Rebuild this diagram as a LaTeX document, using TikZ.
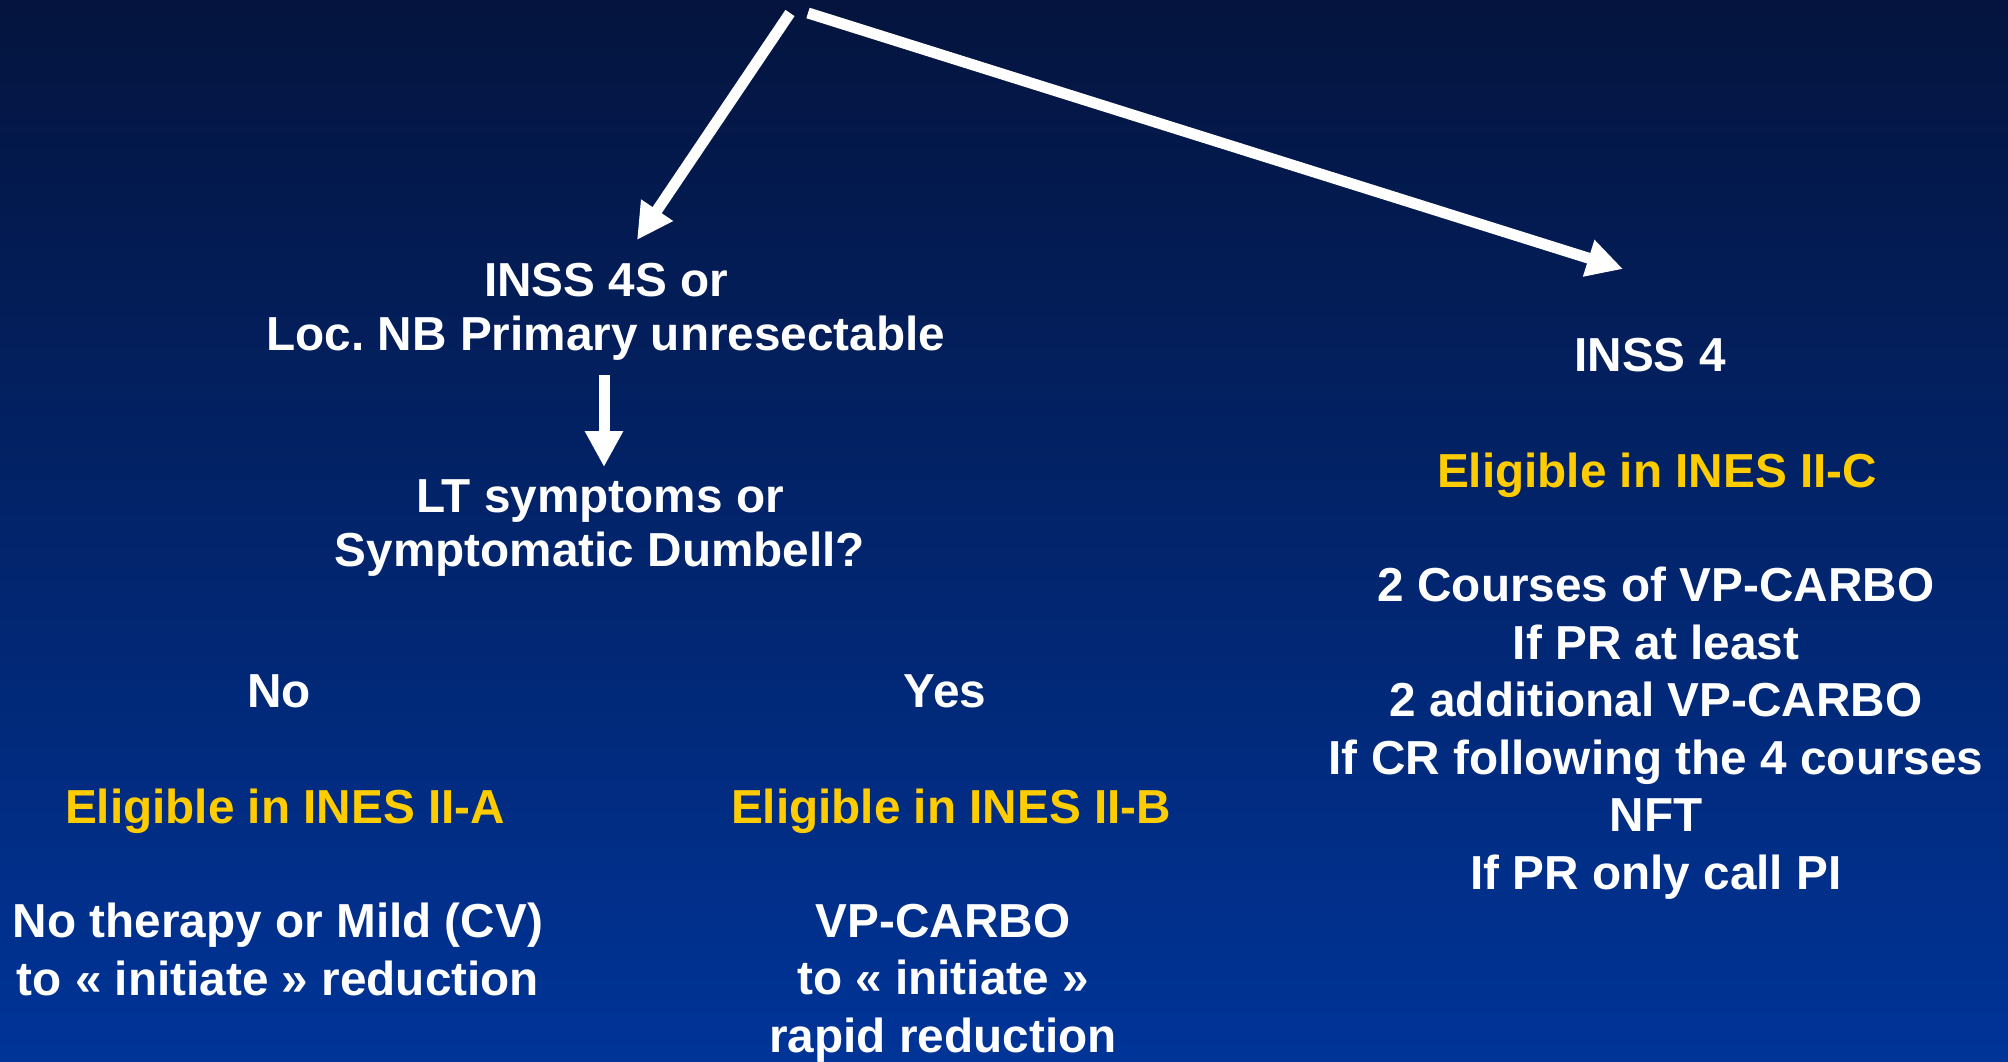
\documentclass[tikz,border=0pt]{standalone}
\usepackage{fontspec}
\setmainfont{Liberation Sans}
\frenchspacing
\usetikzlibrary{arrows.meta}
\definecolor{bgtop}{RGB}{4,20,62}
\definecolor{bgmid}{RGB}{0,38,112}
\definecolor{bgbot}{RGB}{0,52,152}
\definecolor{ineskey}{RGB}{255,204,0}
\begin{document}
\begin{tikzpicture}[x=0.5pt,y=-0.5pt,
  % multi-line nodes sit on the baseline of their last line
  txt/.style={text=white,inner sep=0pt,align=center,anchor=base,
    font=\fontsize{23.85pt}{27pt}\selectfont\bfseries},
  wide/.style={font=\fontsize{23.85pt}{28.6pt}\selectfont\bfseries},
  key/.style={txt,text=ineskey},
  bigarrow/.style={draw=white,line width=5.5pt,
    -{Triangle[length=18pt,width=18pt]}}]
  % backdrop
  \shade[top color=bgtop,middle color=bgmid,bottom color=bgbot]
    (0,0) rectangle (2008,1061);
  \useasboundingbox (0,0) rectangle (2008,1061);

  % left branch
  \node[txt] (n4s) at (606,350) {INSS 4S or\\Loc. NB Primary unresectable};
  \node[txt] (qlt) at (600,566) {LT symptoms or\\Symptomatic Dumbell?};
  \node[txt] (no)  at (279,707) {No};
  \node[txt] (yes) at (945,707) {Yes};
  \node[key] (elA) at (285,823) {Eligible in INES II-A};
  \node[key] (elB) at (951,823) {Eligible in INES II-B};
  \node[txt,wide] (txA) at (278,995) {No therapy or Mild (CV)\\to « initiate » reduction};
  \node[txt,wide] (txB) at (943,1052) {VP-CARBO\\to « initiate »\\rapid reduction};

  % right branch
  \node[txt] (inss4) at (1650,371) {INSS 4};
  \node[key] (elC) at (1657,487) {Eligible in INES II-C};
  \node[txt,font=\fontsize{23.85pt}{28.75pt}\selectfont\bfseries] (txC) at (1656,889)
    {2 Courses of VP-CARBO\\If PR at least\\2 additional VP-CARBO\\If CR following the 4 courses\\NFT\\If PR only call PI};

  % connectors
  \coordinate (srcL) at (790,13);
  \coordinate (srcR) at (808,13);
  \coordinate (endL) at (637,240);
  \coordinate (endR) at (1623,269);
  \coordinate (downA) at (604,375);
  \coordinate (downB) at (604,467);
  \draw[bigarrow] (srcL) -- (endL);
  \draw[bigarrow] (srcR) -- (endR);
  \draw[bigarrow] (downA) -- (downB);
\end{tikzpicture}
\end{document}
